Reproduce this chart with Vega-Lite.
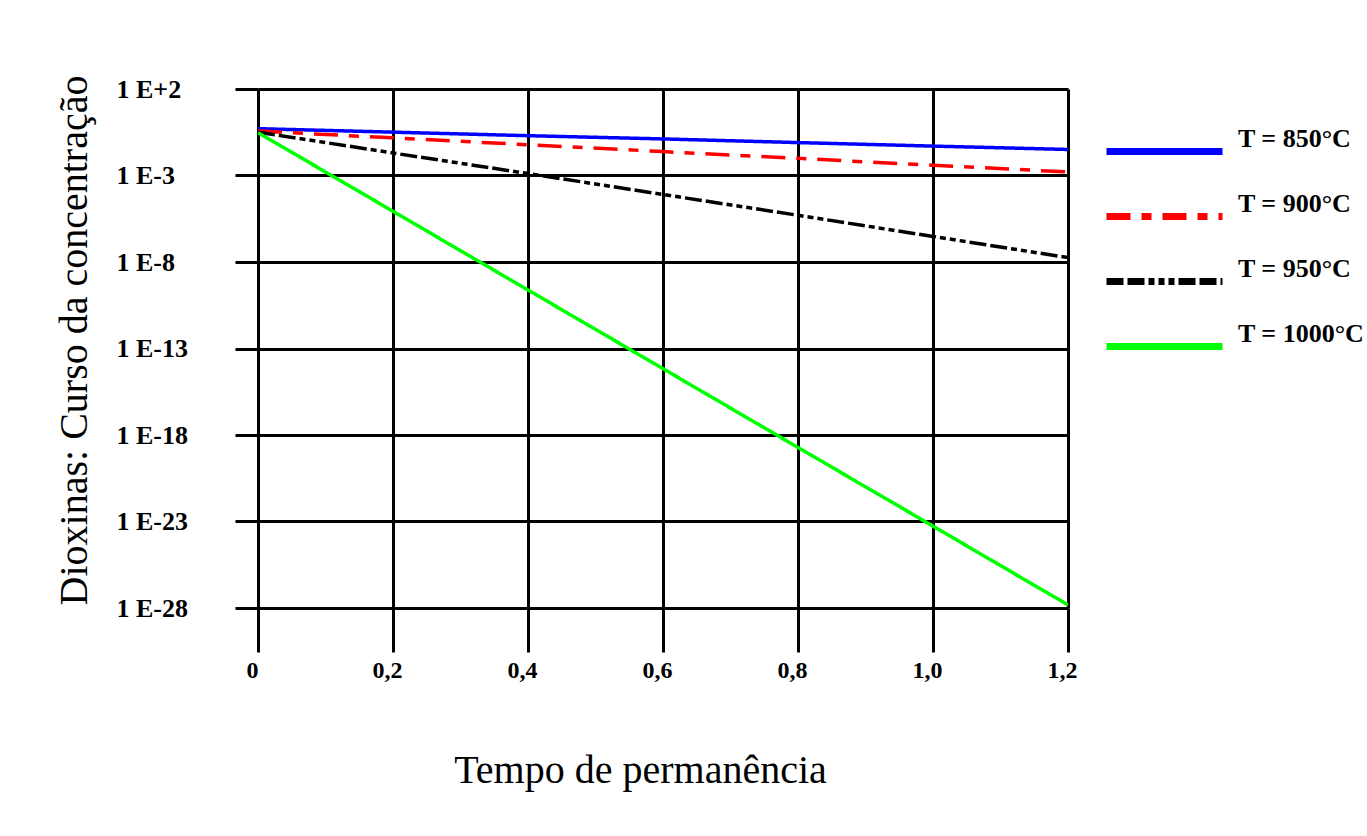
{
  "$schema": "https://vega.github.io/schema/vega-lite/v6.json",
  "width": 810,
  "height": 519,
  "autosize": {"type": "none"},
  "padding": {"left": 258, "top": 89, "right": 299, "bottom": 228},
  "background": "white",
  "config": {"font": "Liberation Serif", "view": {"stroke": null}},
  "data": {
    "values": [
      {"t": 0.0, "c": 0.51, "serie": "T = 850°C"},
      {"t": 0.2, "c": 0.32, "serie": "T = 850°C"},
      {"t": 0.4, "c": 0.20, "serie": "T = 850°C"},
      {"t": 0.6, "c": 0.13, "serie": "T = 850°C"},
      {"t": 0.8, "c": 0.08, "serie": "T = 850°C"},
      {"t": 1.0, "c": 0.05, "serie": "T = 850°C"},
      {"t": 1.2, "c": 0.032, "serie": "T = 850°C"},
      {"t": 0.0, "c": 0.37, "serie": "T = 900°C"},
      {"t": 0.2, "c": 0.15, "serie": "T = 900°C"},
      {"t": 0.4, "c": 0.06, "serie": "T = 900°C"},
      {"t": 0.6, "c": 0.024, "serie": "T = 900°C"},
      {"t": 0.8, "c": 0.0098, "serie": "T = 900°C"},
      {"t": 1.0, "c": 0.0039, "serie": "T = 900°C"},
      {"t": 1.2, "c": 0.0016, "serie": "T = 900°C"},
      {"t": 0.0, "c": 0.32, "serie": "T = 950°C"},
      {"t": 0.2, "c": 0.02, "serie": "T = 950°C"},
      {"t": 0.4, "c": 0.0013, "serie": "T = 950°C"},
      {"t": 0.6, "c": 8e-5, "serie": "T = 950°C"},
      {"t": 0.8, "c": 5e-6, "serie": "T = 950°C"},
      {"t": 1.0, "c": 3e-7, "serie": "T = 950°C"},
      {"t": 1.2, "c": 1.8e-8, "serie": "T = 950°C"},
      {"t": 0.0, "c": 0.30, "serie": "T = 1000°C"},
      {"t": 0.2, "c": 8.5e-6, "serie": "T = 1000°C"},
      {"t": 0.4, "c": 2.4e-10, "serie": "T = 1000°C"},
      {"t": 0.6, "c": 6.8e-15, "serie": "T = 1000°C"},
      {"t": 0.8, "c": 1.9e-19, "serie": "T = 1000°C"},
      {"t": 1.0, "c": 5.4e-24, "serie": "T = 1000°C"},
      {"t": 1.2, "c": 1.5e-28, "serie": "T = 1000°C"}
    ]
  },
  "mark": {"type": "line", "clip": true, "strokeWidth": 3.5},
  "encoding": {
    "x": {
      "field": "t",
      "type": "quantitative",
      "scale": {"domain": [0, 1.2], "nice": false, "zero": false},
      "axis": {
        "values": [0, 0.2, 0.4, 0.6, 0.8, 1.0, 1.2],
        "labelExpr": "datum.value == 0 ? '0' : replace(format(datum.value, '.1f'), '.', ',')",
        "grid": true, "gridColor": "black", "gridWidth": 3, "gridOpacity": 1,
        "domain": true, "domainColor": "black", "domainWidth": 3,
        "ticks": true, "tickSize": 44, "tickWidth": 3, "tickColor": "black",
        "labelFlush": false, "labelPadding": 6, "labelOffset": -6,
        "labelFont": "Liberation Serif", "labelFontSize": 24, "labelFontWeight": "bold", "labelColor": "black",
        "title": "Tempo de permanência",
        "titleFont": "Liberation Serif", "titleFontSize": 40, "titleFontWeight": "normal", "titleColor": "black",
        "titlePadding": 68, "titleX": 382
      }
    },
    "y": {
      "field": "c",
      "type": "quantitative",
      "scale": {"type": "log", "domain": [1e-28, 100], "nice": false},
      "axis": {
        "values": [100, 0.001, 1e-8, 1e-13, 1e-18, 1e-23, 1e-28],
        "labelExpr": "'1 E' + (datum.value >= 1 ? '+' : '') + round(log(datum.value) / LN10)",
        "grid": true, "gridColor": "black", "gridWidth": 3, "gridOpacity": 1,
        "domain": true, "domainColor": "black", "domainWidth": 3,
        "ticks": true, "tickSize": 23, "tickWidth": 3, "tickColor": "black",
        "labelAlign": "left", "labelPadding": 119,
        "labelFont": "Liberation Serif", "labelFontSize": 26, "labelFontWeight": "bold", "labelColor": "black",
        "title": "Dioxinas: Curso da concentração",
        "titleFont": "Liberation Serif", "titleFontSize": 40, "titleFontWeight": "normal", "titleColor": "black",
        "titlePadding": 22, "titleY": 251
      }
    },
    "color": {
      "field": "serie",
      "type": "nominal",
      "scale": {
        "domain": ["T = 850°C", "T = 900°C", "T = 950°C", "T = 1000°C"],
        "range": ["#0000ff", "#ff0000", "#000000", "#00ff00"]
      },
      "legend": {
        "title": null, "orient": "none", "legendX": 845, "legendY": 30,
        "symbolType": "stroke", "symbolSize": 13456, "symbolStrokeWidth": 7,
        "clipHeight": 65, "rowPadding": 0, "padding": 0,
        "labelFont": "Liberation Serif", "labelFontSize": 26, "labelFontWeight": "bold", "labelColor": "black",
        "labelOffset": 12, "labelLimit": 300, "labelBaseline": "bottom"
      }
    },
    "strokeDash": {
      "field": "serie",
      "type": "nominal",
      "scale": {
        "domain": ["T = 850°C", "T = 900°C", "T = 950°C", "T = 1000°C"],
        "range": [[1, 0], [24, 11, 10, 11], [17, 4, 17, 4, 6, 4, 6, 4, 6, 4], [1, 0]]
      },
      "legend": {
        "title": null, "orient": "none", "legendX": 845, "legendY": 30,
        "symbolType": "stroke", "symbolSize": 13456, "symbolStrokeWidth": 7,
        "clipHeight": 65, "rowPadding": 0, "padding": 0,
        "labelFont": "Liberation Serif", "labelFontSize": 26, "labelFontWeight": "bold", "labelColor": "black",
        "labelOffset": 12, "labelLimit": 300, "labelBaseline": "bottom"
      }
    }
  }
}
